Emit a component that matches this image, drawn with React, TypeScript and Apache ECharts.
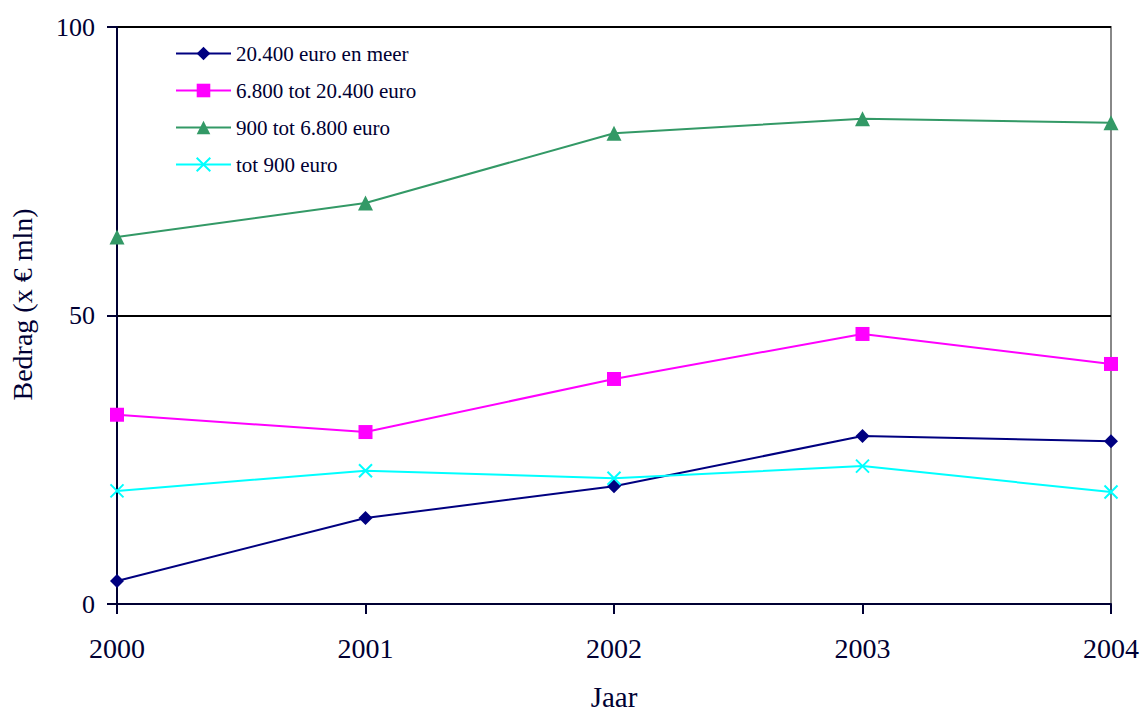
import React, { useEffect, useRef } from "react";
import * as echarts from "echarts";

const years = ["2000", "2001", "2002", "2003", "2004"];
const seriesNames = ["20.400 euro en meer", "6.800 tot 20.400 euro", "900 tot 6.800 euro", "tot 900 euro"];
const high = [4.0, 14.9, 20.4, 29.1, 28.2];
const midHigh = [32.8, 29.8, 39.0, 46.8, 41.6];
const midLow = [63.6, 69.5, 81.6, 84.1, 83.4];
const low = [19.6, 23.1, 21.8, 23.9, 19.4];
const yTicks = [0, 50, 100];

const FONT = '"Liberation Serif", "Times New Roman", serif';
const AXIS = "#000033";
const TEXT = "#000033";

export default function App() {
  const ref = useRef<HTMLDivElement>(null);
  useEffect(() => {
    if (!ref.current) return;
    const chart = echarts.init(ref.current, null, { renderer: "svg" });
    const mk = (name: string, data: number[], color: string, symbol: string, size: number, extra: any = {}) => ({
      name,
      type: "line",
      data,
      symbol,
      symbolSize: size,
      lineStyle: { color, width: 2 },
      itemStyle: { color, ...extra },
      z: 5,
    });
    chart.setOption({
      animation: false,
      textStyle: { fontFamily: FONT },
      grid: {
        left: 117,
        right: 33,
        top: 27,
        bottom: 107,
        containLabel: false,
        outerBoundsMode: "none",
        show: true,
        borderColor: "#888888",
        borderWidth: 2,
        backgroundColor: "transparent",
      },
      legend: {
        orient: "vertical",
        left: 170,
        top: 38,
        itemWidth: 55,
        itemHeight: 17,
        itemGap: 16,
        textStyle: { fontFamily: FONT, fontSize: 21, color: TEXT },
        data: seriesNames,
      },
      xAxis: {
        type: "category",
        data: years,
        boundaryGap: false,
        axisLine: { lineStyle: { color: AXIS, width: 2 } },
        axisTick: { show: true, alignWithLabel: true, length: 10, lineStyle: { color: AXIS, width: 2 } },
        axisLabel: { fontFamily: FONT, fontSize: 28, color: TEXT, margin: 30 },
        splitLine: { show: false },
        name: "Jaar",
        nameLocation: "middle",
        nameGap: 78,
        nameTextStyle: { fontFamily: FONT, fontSize: 29, color: TEXT },
      },
      yAxis: {
        type: "value",
        min: 0,
        max: 100,
        interval: 50,
        axisLine: { show: true, lineStyle: { color: AXIS, width: 2 } },
        axisTick: { show: true, length: 10, lineStyle: { color: AXIS, width: 2 } },
        axisLabel: {
          fontFamily: FONT,
          fontSize: 26,
          color: TEXT,
          margin: 22,
          formatter: (v: number) => (yTicks.includes(v) ? String(v) : ""),
        },
        splitLine: { show: true, lineStyle: { color: "#000000", width: 2 } },
        name: "Bedrag (x € mln)",
        nameLocation: "middle",
        nameGap: 81,
        nameTextStyle: { fontFamily: FONT, fontSize: 28, color: TEXT, padding: [0, 0, 0, 22] },
      },
      series: [
        mk(seriesNames[0], high, "#000080", "diamond", 14),
        mk(seriesNames[1], midHigh, "#ff00ff", "rect", 14),
        mk(seriesNames[2], midLow, "#339966", "triangle", 15),
        mk(seriesNames[3], low, "#00ffff", "path://M0,0L10,10M10,0L0,10", 13, {
          borderColor: "#00ffff",
          borderWidth: 2,
        }),
      ],
    });
    return () => chart.dispose();
  }, []);
  return <div ref={ref} style={{ width: 1144, height: 711, position: "absolute", left: 0, top: 0 }} />;
}
